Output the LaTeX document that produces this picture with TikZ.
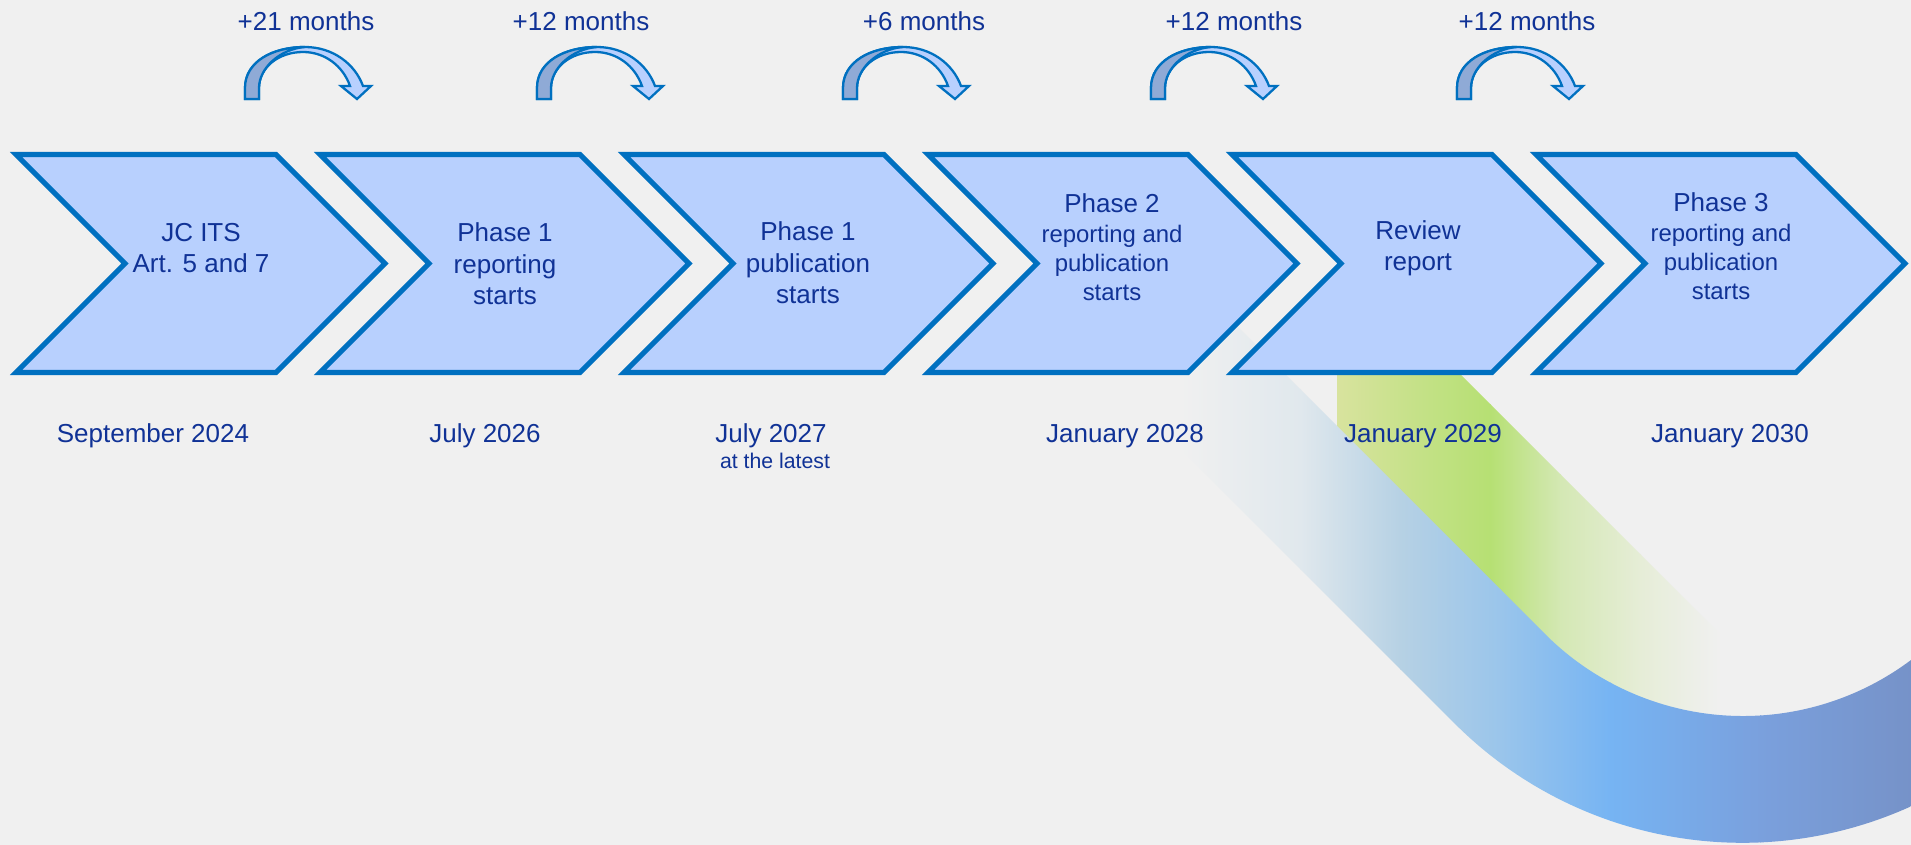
\documentclass[tikz,border=0pt]{standalone}
\usepackage{fontspec}
\setmainfont{Liberation Sans}
\usetikzlibrary{positioning}

\definecolor{bgcol}{RGB}{240,240,240}
\definecolor{chevline}{RGB}{0,112,192}
\definecolor{chevfill}{RGB}{184,208,254}
\definecolor{arrdark}{RGB}{143,170,214}
\definecolor{txtblue}{RGB}{16,50,150}
% ribbon colours
\definecolor{b0}{RGB}{240,240,240}
\definecolor{b1}{RGB}{224,232,237}
\definecolor{b2}{RGB}{182,209,228}
\definecolor{b3}{RGB}{154,197,235}
\definecolor{b4}{RGB}{118,180,243}
\definecolor{b5}{RGB}{122,160,221}
\definecolor{b6}{RGB}{118,146,200}
\definecolor{g0}{RGB}{216,227,158}
\definecolor{g1}{RGB}{196,225,135}
\definecolor{g2}{RGB}{182,224,115}
\definecolor{g3}{RGB}{212,232,180}
\definecolor{g4}{RGB}{230,237,215}
\definecolor{g5}{RGB}{240,240,240}

\tikzset{
  big/.style={text=txtblue, font=\fontsize{14.8}{17.9}\selectfont, inner sep=0pt},
  mid/.style={text=txtblue, font=\fontsize{13.6}{16.7}\selectfont, inner sep=0pt},
  small/.style={text=txtblue, font=\fontsize{12.1}{14}\selectfont, inner sep=0pt},
}

\begin{document}
\begin{tikzpicture}[x=0.02cm, y=-0.02cm]

\useasboundingbox (0,0) rectangle (1911,845);
\path[fill=bgcol] (0,0) rectangle (1911,845);

% green ribbon
\begin{scope}
\clip (1337,372) -- (1458,372) -- (1780,694) -- (1780,780) -- (1600,760) -- (1500,700) -- (1337,516) -- cycle;
\foreach \xa/\xb/\ca/\cb in {1337/1420/g0/g1, 1420/1490/g1/g2, 1490/1560/g2/g3, 1560/1640/g3/g4, 1640/1720/g4/g5, 1720/1790/g5/g5}
    \shade[left color=\ca, right color=\cb] (\xa,360) rectangle (\xb+1,800);
\end{scope}

% blue ribbon
\begin{scope}
\clip (1211,300) -- (1545,634) arc[start angle=135, end angle=20, radius=280] -- (2125,575) arc[start angle=20, end angle=135, radius=407] -- (1031,300) -- cycle;
\foreach \xa/\xb/\ca/\cb in {1000/1180/b0/b0, 1180/1300/b0/b1, 1300/1400/b1/b2, 1400/1500/b2/b3, 1500/1610/b3/b4, 1610/1760/b4/b5, 1760/1912/b5/b6}
    \shade[left color=\ca, right color=\cb] (\xa,290) rectangle (\xb+1,850);
\end{scope}

% chevrons
\foreach \i in {0,...,5}
    \path[draw=chevline, fill=chevfill, line width=2.85pt] ({16+304*\i},154.5) -- ++(260,0) -- ++(109,109) -- ++(-109,109) -- ++(-260,0) -- ++(109,-109) -- cycle;

% curved arrows
\foreach \L in {245,537,843,1151,1457} {
  \begin{scope}[shift={(\L,0)}]
    \path[draw=chevline, fill=chevfill, line width=1.3pt] (0,99) -- (0,88) .. controls (0,62) and (27,47) .. (60,47) .. controls (88,47) and (110,64) .. (118,86) -- (126,86) -- (112,99) -- (96,86) -- (105,86) .. controls (98,66) and (80,52) .. (58,52) .. controls (33,52) and (14,68) .. (14,88) -- (14,99) -- cycle;
    \path[draw=chevline, fill=arrdark, line width=1.3pt] (0,99) -- (0,88) .. controls (0,62) and (27,47) .. (60,47) .. controls (35,49) and (14,68) .. (14,88) -- (14,99) -- cycle;
  \end{scope}
}

\node[big, anchor=base] (m1) at (306,31) {+21 months};
\node[big, anchor=base] (m2) at (581,31) {+12 months};
\node[big, anchor=base] (m3) at (924,31) {+6 months};
\node[big, anchor=base] (m4) at (1234,31) {+12 months};
\node[big, anchor=base] (m5) at (1527,31) {+12 months};

\node[big, align=center] (jcits) at (201,248) {JC ITS\\Art. 5 and 7};
\node[big, align=center] (ph1rep) at (505,264) {Phase 1\\reporting\\starts};
\node[big, align=center] (ph1pub) at (808,263) {Phase 1\\publication\\starts};
\node[mid, align=center] (ph2) at (1112,247.5) {{\fontsize{14.8}{17.9}\selectfont Phase 2}\\reporting and\\publication\\starts};
\node[big, align=center] (review) at (1418,248) {Review\\report};
\node[mid, align=center] (ph3) at (1721,246.5) {{\fontsize{14.8}{17.9}\selectfont Phase 3}\\reporting and\\publication\\starts};

\node[big, anchor=base] (d2024) at (153,442) {September 2024};
\node[big, anchor=base] (d2026) at (485,442) {July 2026};
\node[big, anchor=base] (d2027) at (771,442) {July 2027};
\node[small, anchor=base] (latest) at (775,468) {at the latest};
\node[big, anchor=base] (d2028) at (1125,442) {January 2028};
\node[big, anchor=base] (d2029) at (1423,442) {January 2029};
\node[big, anchor=base] (d2030) at (1730,442) {January 2030};

\end{tikzpicture}
\end{document}
